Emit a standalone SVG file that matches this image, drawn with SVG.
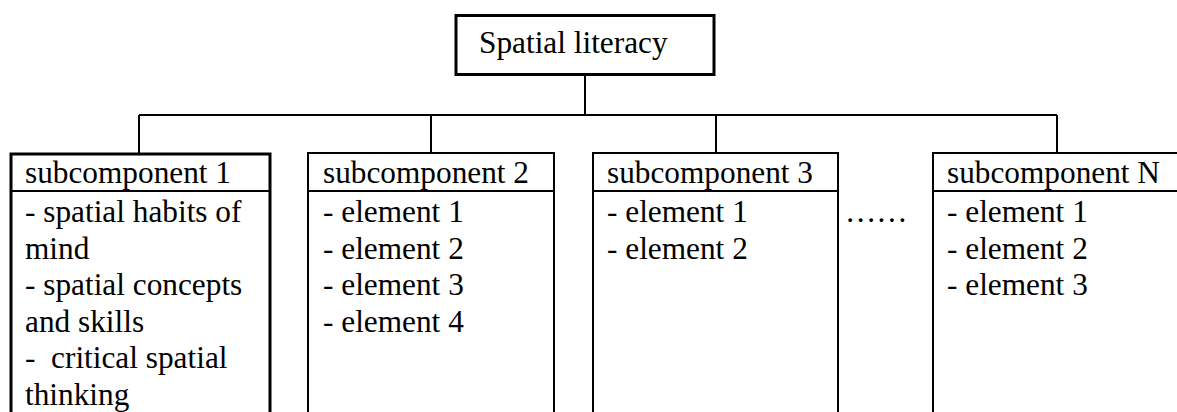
<svg xmlns="http://www.w3.org/2000/svg" width="1177" height="412" viewBox="0 0 1177 412">
  <style>
    .box { fill: #ffffff; stroke: #000000; stroke-width: 2; }
    .box.bold { stroke-width: 3; }
    .divider { stroke: #000000; stroke-width: 2; }
    .wire { fill: none; stroke: #000000; stroke-width: 2; }
    .label { font-family: 'Liberation Serif', 'Tinos', 'DejaVu Serif', serif; font-size: 31.3px; fill: #000000; }
  </style>
  <rect width="1177" height="412" fill="#ffffff"/>

  <!-- tree connectors -->
  <g id="connectors">
    <path class="wire" d="M585 75 V115"/>
    <path class="wire" d="M139 115 H1057"/>
    <path class="wire" d="M139 115 V153"/>
    <path class="wire" d="M431 115 V152"/>
    <path class="wire" d="M716 115 V152"/>
    <path class="wire" d="M1057 115 V152"/>
  </g>

  <!-- root -->
  <g id="spatial-literacy">
    <rect class="box bold" x="456" y="15.5" width="258" height="59"/>
    <text class="label" x="479" y="53" font-family="Liberation Serif, serif">Spatial literacy</text>
  </g>

  <g id="subcomponent-1" class="label">
    <rect class="box bold" x="11" y="154" width="259" height="280"/>
    <line class="divider" x1="11" y1="191" x2="270" y2="191"/>
    <text class="label" x="25" y="183">subcomponent 1</text>
    <text class="label" x="25" y="222">- spatial habits of</text>
    <text class="label" x="25" y="258.5">mind</text>
    <text class="label" x="25" y="295">- spatial concepts</text>
    <text class="label" x="25" y="331.5">and skills</text>
    <text class="label" x="25" y="368" xml:space="preserve">-  critical spatial</text>
    <text class="label" x="25" y="404.5">thinking</text>
  </g>

  <g id="subcomponent-2">
    <rect class="box" x="308" y="153" width="246" height="280"/>
    <line class="divider" x1="308" y1="191" x2="554" y2="191"/>
    <text class="label" x="323" y="183">subcomponent 2</text>
    <text class="label" x="323" y="222">- element 1</text>
    <text class="label" x="323" y="258.5">- element 2</text>
    <text class="label" x="323" y="295">- element 3</text>
    <text class="label" x="323" y="331.5">- element 4</text>
  </g>

  <g id="subcomponent-3">
    <rect class="box" x="593" y="153" width="245" height="280"/>
    <line class="divider" x1="593" y1="191" x2="838" y2="191"/>
    <text class="label" x="607" y="183">subcomponent 3</text>
    <text class="label" x="607" y="222">- element 1</text>
    <text class="label" x="607" y="258.5">- element 2</text>
  </g>

  <g id="ellipsis">
    <text class="label" x="845" y="222">……</text>
  </g>

  <g id="subcomponent-n">
    <rect class="box" x="933" y="153" width="300" height="280"/>
    <line class="divider" x1="933" y1="191" x2="1233" y2="191"/>
    <text class="label" x="947" y="183">subcomponent N</text>
    <text class="label" x="947" y="222">- element 1</text>
    <text class="label" x="947" y="258.5">- element 2</text>
    <text class="label" x="947" y="295">- element 3</text>
  </g>
</svg>
